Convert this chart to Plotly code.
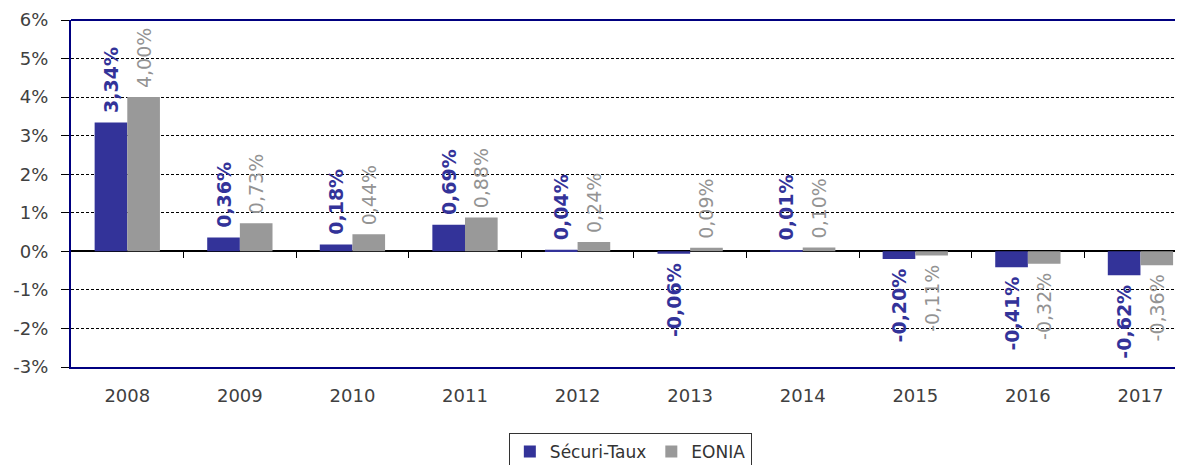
import plotly.graph_objects as go

years = ["2008", "2009", "2010", "2011", "2012", "2013", "2014", "2015", "2016", "2017"]
securi_taux = [3.34, 0.36, 0.18, 0.69, 0.04, -0.06, 0.01, -0.20, -0.41, -0.62]
eonia = [4.00, 0.73, 0.44, 0.88, 0.24, 0.09, 0.10, -0.11, -0.32, -0.36]
y_ticks = [-3, -2, -1, 0, 1, 2, 3, 4, 5, 6]
y_tick_text = [f"{v}%" for v in y_ticks]

BLUE = "#333399"
GRAY = "#999999"
NAVY = "#000080"
FONT = "DejaVu Sans"
PAD = "\u00a0"


def labels(vals):
    out = []
    for v in vals:
        s = f"{v:.2f}".replace(".", ",") + "%"
        out.append(PAD + s if v >= 0 else s + PAD)
    return out


fig = go.Figure()
fig.add_trace(go.Bar(
    x=years, y=securi_taux, name="Sécuri-Taux", marker_color=BLUE,
    marker_line_width=0,
    text=labels(securi_taux), textposition="outside", textangle=-90,
    textfont=dict(family=FONT, size=19, color=BLUE, weight="bold"),
    cliponaxis=False, constraintext="none",
))
fig.add_trace(go.Bar(
    x=years, y=eonia, name="EONIA", marker_color=GRAY,
    marker_line_width=0,
    text=labels(eonia), textposition="outside", textangle=-90,
    textfont=dict(family=FONT, size=19, color="#939393"),
    cliponaxis=False, constraintext="none",
))
# invisible trace to register the tick-mark axis on the zero line
fig.add_trace(go.Scatter(x=[None], y=[None], xaxis="x2", showlegend=False,
                         hoverinfo="skip"))

x_range = [-0.5, 9.378]
fig.update_layout(
    width=1175, height=457,
    margin=dict(l=63, r=0, t=12, b=98, autoexpand=False),
    paper_bgcolor="white", plot_bgcolor="white",
    barmode="group", bargap=0.42, bargroupgap=0,
    font=dict(family=FONT, size=16, color="#404040"),
    showlegend=True,
    legend=dict(orientation="h", x=0.503, xanchor="center", y=-0.19,
                yanchor="top", bordercolor="#333333", borderwidth=1,
                font=dict(family=FONT, size=17, color="#333333"),
                bgcolor="white"),
    xaxis=dict(type="category", range=x_range, showgrid=False,
               showline=True, linecolor=NAVY, linewidth=2,
               ticks="", ticklabelstandoff=11,
               tickfont=dict(family=FONT, size=18, color="#404040")),
    xaxis2=dict(overlaying="x", anchor="free", position=1/3,
                range=x_range, showgrid=False, showline=False,
                zeroline=False, showticklabels=False,
                tickvals=[i + 0.5 for i in range(9)],
                ticks="outside", ticklen=6, tickcolor="black", tickwidth=1),
    yaxis=dict(range=[-3, 6], tickvals=y_ticks, ticktext=y_tick_text,
               showgrid=True, gridcolor="black", gridwidth=1,
               griddash="3px,2px",
               zeroline=True, zerolinecolor="black", zerolinewidth=1.5,
               showline=True, linecolor=NAVY, linewidth=2,
               ticks="outside", ticklen=8, tickcolor="black",
               ticklabelstandoff=9,
               tickfont=dict(family=FONT, size=18, color="#404040")),
    shapes=[dict(type="line", xref="paper", yref="paper", x0=0, x1=1,
                 y0=1, y1=1, line=dict(color=NAVY, width=2))],
)

fig.write_html("out.html")
